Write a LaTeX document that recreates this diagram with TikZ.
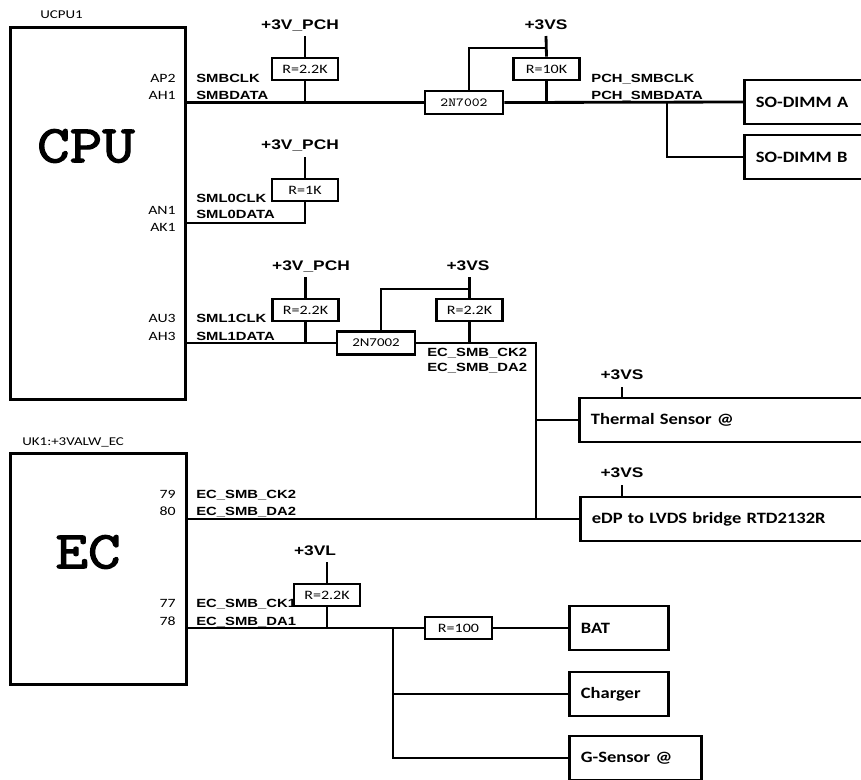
\documentclass[tikz,border=0pt]{standalone}
\usepackage{fontspec}
\usepackage{tikz}
\newfontfamily\netfont[FakeStretch=1.25]{Liberation Sans}
\newfontfamily\pinfont[FakeStretch=1.25]{Carlito}
\newfontfamily\blkfont[FakeStretch=1.17]{Carlito}
\newfontfamily\chipfont[FakeStretch=1.2, FakeBold=2.5]{Latin Modern Mono}
\newfontfamily\fetfont[FakeStretch=1.2]{Latin Modern Mono}

\tikzset{
  wire/.style={line width=1.6pt},
  chip/.style={draw, line width=1.6pt, anchor=north west, inner sep=0pt},
  big/.style={font=\chipfont\fontsize{30}{32}\selectfont},
  res/.style={draw, line width=1.6pt, minimum width=1.32cm, minimum height=0.44cm, inner sep=0pt,
    font=\pinfont\fontsize{7.3}{8}\selectfont},
  fet/.style={draw, line width=1.6pt, minimum width=1.56cm, minimum height=0.46cm, inner sep=0pt},
  blk/.style={draw, line width=1.6pt, anchor=west, minimum height=0.88cm, inner xsep=0.23cm,
    align=left, font=\blkfont\bfseries\fontsize{9}{10}\selectfont},
  pwr/.style={inner sep=0pt, anchor=mid, font=\netfont\bfseries\fontsize{7.9}{9}\selectfont},
  net/.style={inner sep=0pt, anchor=mid west, font=\netfont\bfseries\fontsize{6.75}{8}\selectfont},
  pin/.style={inner sep=0pt, anchor=mid east, font=\pinfont\fontsize{7.2}{8}\selectfont},
  ref/.style={inner sep=0pt, anchor=mid west, font=\pinfont\fontsize{6.8}{8}\selectfont}
}

\begin{document}
\begin{tikzpicture}[x=0.02cm, y=-0.02cm]
\useasboundingbox (0,0) rectangle (861,779);
\clip (0,0) rectangle (861,779);

% CPU
\node [chip, minimum width=3.5cm, minimum height=7.44cm] (cpu) at (9,26) {};
\node [ref] (cpuref) at (40,15) {UCPU1};
\node [big] (cputxt) at (86,146) {CPU};

% EC
\node [chip, minimum width=3.52cm, minimum height=4.62cm] (ec) at (9,452) {};
\node [ref] (ecref) at (22,442) {UK1:+3VALW\_EC};
\node [big] (ectxt) at (88,552) {EC};

% pins and nets
\node [pin] (pap2) at (176,79) {AP2};
\node [pin] (pah1) at (176,96) {AH1};
\node [pin] (pan1) at (176,211) {AN1};
\node [pin] (pak1) at (176,228) {AK1};
\node [pin] (pau3) at (176,319) {AU3};
\node [pin] (pah3) at (176,337) {AH3};
\node [pin] (p79) at (176,495) {79};
\node [pin] (p80) at (176,512) {80};
\node [pin] (p77) at (176,604) {77};
\node [pin] (p78) at (176,622) {78};
\node [net] (smbclk) at (196,79) {SMBCLK};
\node [net] (smbdata) at (196,96) {SMBDATA};
\node [net] (sml0clk) at (196,199) {SML0CLK};
\node [net] (sml0data) at (196,215) {SML0DATA};
\node [net] (sml1clk) at (196,319) {SML1CLK};
\node [net] (sml1data) at (196,337) {SML1DATA};
\node [net] (ecck2) at (196,495) {EC\_SMB\_CK2};
\node [net] (ecda2) at (196,512) {EC\_SMB\_DA2};
\node [net] (ecck1) at (196,604) {EC\_SMB\_CK1};
\node [net] (ecda1) at (196,622) {EC\_SMB\_DA1};
\node [net] (pchclk) at (591,79) {PCH\_SMBCLK};
\node [net] (pchdata) at (591,96) {PCH\_SMBDATA};
\node [net] (ecck2b) at (427,353) {EC\_SMB\_CK2};
\node [net] (ecda2b) at (427,368) {EC\_SMB\_DA2};

% devices
\node [blk, text width=2.7cm] (dimma) at (743,102) {SO-DIMM A};
\node [blk, text width=2.7cm] (dimmb) at (743,157) {SO-DIMM B};
\node [blk, text width=6cm] (thermal) at (578,420) {Thermal Sensor @};
\node [blk, text width=6cm] (edp) at (579,519) {eDP to LVDS bridge RTD2132R};
\node [blk, text width=1.52cm] (bat) at (568,628) {BAT};
\node [blk, text width=1.52cm] (charger) at (568,694) {Charger};
\node [blk, text width=2.18cm] (gsensor) at (568,758) {G-Sensor @};

% SMBus to SO-DIMM
\node [pwr] (v1) at (300,26) {+3V\_PCH};
\coordinate (v1t) at (305,36);
\node [res] (r1) at (305,69) {R=2.2K};
\node [fet, font=\fetfont\fontsize{7}{8}\selectfont] (q1) at (464,102.5) {2N7002};
\node [pwr] (v2) at (546,26) {+3VS};
\coordinate (v2t) at (546,36);
\node [res] (r2) at (546.5,69) {R=10K};
\coordinate (g1) at (469,48);
\coordinate (b1) at (667,102.5);
\draw [wire] (v1t) -- (r1.north);
\draw [wire] (r1.south) -- (r1.south |- q1);
\draw [wire] (cpu.east |- q1) -- (q1.west);
\draw [wire] (v2t) -- (r2.north);
\draw [wire] (r2.south) -- (r2.south |- q1);
\draw [wire] (g1 |- q1.north) -- (g1) -- (g1 -| v2t);
\draw [wire] (q1.east) -- (dimma.west);
\draw [wire] (b1) |- (dimmb.west);

% SML0
\node [pwr] (v3) at (300,146) {+3V\_PCH};
\coordinate (v3t) at (305,157);
\node [res] (r3) at (305,190) {R=1K};
\coordinate (n2) at (305,223);
\draw [wire] (v3t) -- (r3.north);
\draw [wire] (r3.south) -- (n2) -- (n2 -| cpu.east);

% SML1 to EC
\node [pwr] (v4) at (311,267) {+3V\_PCH};
\coordinate (v4t) at (305.5,277);
\node [res] (r4) at (305.5,310) {R=2.2K};
\node [fet, font=\pinfont\fontsize{6.8}{8}\selectfont] (q2) at (376,343) {2N7002};
\node [pwr] (v5) at (468,267) {+3VS};
\coordinate (v5t) at (469.5,277);
\node [res] (r5) at (469.5,310) {R=2.2K};
\coordinate (g2) at (381,289);
\coordinate (n3) at (536,343);
\draw [wire] (v4t) -- (r4.north);
\draw [wire] (r4.south) -- (r4.south |- q2);
\draw [wire] (cpu.east |- q2) -- (q2.west);
\draw [wire] (v5t) -- (r5.north);
\draw [wire] (r5.south) -- (r5.south |- q2);
\draw [wire] (g2 |- q2.north) -- (g2) -- (g2 -| v5t);
\draw [wire] (q2.east) -- (n3) -- (n3 |- edp.west);
\draw [wire] (n3 |- thermal.west) -- (thermal.west);
\draw [wire] (ec.east |- edp.west) -- (edp.west);
\node [pwr] (v6) at (622,376) {+3VS};
\coordinate (v6t) at (622,387);
\draw [wire] (v6t) -- (v6t |- thermal.north);
\node [pwr] (v7) at (622,474) {+3VS};
\coordinate (v7t) at (622,485);
\draw [wire] (v7t) -- (v7t |- edp.north);

% EC SMBus 1
\node [pwr] (v8) at (315,552) {+3VL};
\coordinate (v8t) at (327,562);
\node [res] (r6) at (327,595) {R=2.2K};
\node [res, minimum width=1.34cm] (r7) at (458.5,628) {R=100};
\coordinate (b2) at (393,628);
\draw [wire] (v8t) -- (r6.north);
\draw [wire] (r6.south) -- (r6.south |- r7);
\draw [wire] (ec.east |- r7) -- (r7.west);
\draw [wire] (r7.east) -- (bat.west);
\draw [wire] (b2) -- (b2 |- gsensor.west) -- (gsensor.west);
\draw [wire] (b2 |- charger.west) -- (charger.west);
\end{tikzpicture}
\end{document}
